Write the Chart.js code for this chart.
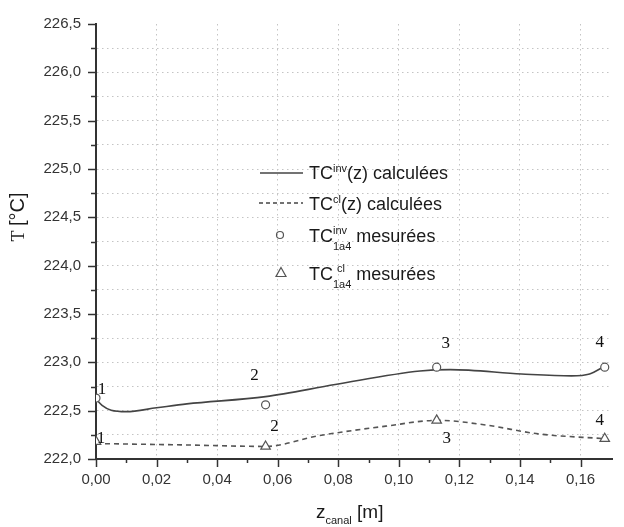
<!DOCTYPE html>
<html>
<head>
<meta charset="utf-8">
<script src="https://cdn.jsdelivr.net/npm/chart.js@4.4.0/dist/chart.umd.min.js"></script>
<style>
html, body { margin: 0; padding: 0; background: #fff; }
#wrap { width: 624px; height: 527px; }
</style>
</head>
<body>
<div id="wrap"><canvas id="chart" width="624" height="527"></canvas></div>
<script>
// Courbes calculées TC(z)
const zInvCurve = [0, 0.002, 0.005, 0.01, 0.02, 0.03, 0.056, 0.079, 0.107, 0.117, 0.1405, 0.157, 0.163, 0.168];
const tInvCurve = [222.62, 222.555, 222.505, 222.49, 222.53, 222.57, 222.645, 222.77, 222.91, 222.925, 222.88, 222.86, 222.88, 222.96];
const zClCurve = [0, 0.03, 0.056, 0.0734, 0.0957, 0.113, 0.129, 0.146, 0.168];
const tClCurve = [222.16, 222.145, 222.13, 222.24, 222.34, 222.40, 222.35, 222.26, 222.21];

// Thermocouples mesurés (1 à 4)
const zMeas = [0, 0.056, 0.1125, 0.168];
const tInvMeas = [222.63, 222.56, 222.95, 222.95];
const tClMeas = [222.18, 222.13, 222.40, 222.21];
const measLabels = ['1', '2', '3', '4'];

// Axes
const zMin = 0, zMax = 0.1704;
const tMin = 222.0, tMax = 226.5;

const SANS = '"Liberation Sans", Arial, sans-serif';
const SERIF = '"Liberation Serif", "Times New Roman", serif';

function fmt(v, d) {
    return v.toFixed(d).replace('.', ',');
}
function isMajorY(v) { return Math.abs(v * 2 - Math.round(v * 2)) < 1e-6; }
function isMajorX(v) { return Math.abs(v * 50 - Math.round(v * 50)) < 1e-6; }
function isStepX(v) { return Math.abs(v * 100 - Math.round(v * 100)) < 1e-6; }

function toPoints(xs, ys) {
    return xs.map((x, i) => ({ x: x, y: ys[i] }));
}

// texte avec exposants / indices
function drawRich(ctx, x, y, parts) {
    parts.forEach(p => {
        ctx.font = p.size + 'px ' + SANS;
        ctx.fillText(p.t, x + (p.dx || 0), y + (p.dy || 0));
        if (!p.stay) x += ctx.measureText(p.t).width + (p.dx || 0);
    });
    return x;
}

const annotPlugin = {
    id: 'annot',
    afterDraw(chart) {
        const ctx = chart.ctx;
        const xs = chart.scales.x, ys = chart.scales.y;
        const area = chart.chartArea;
        ctx.save();

        // graduations
        ctx.strokeStyle = '#333';
        ctx.lineWidth = 1.5;
        ys.ticks.forEach(t => {
            const y = Math.round(ys.getPixelForValue(t.value)) + 0.5;
            const len = isMajorY(t.value) ? 8 : 5;
            ctx.beginPath(); ctx.moveTo(area.left - len, y); ctx.lineTo(area.left, y); ctx.stroke();
        });
        xs.ticks.forEach(t => {
            if (!isStepX(t.value)) return;
            const x = Math.round(xs.getPixelForValue(t.value)) + 0.5;
            const len = isMajorX(t.value) ? 8 : 4;
            ctx.beginPath(); ctx.moveTo(x, area.bottom); ctx.lineTo(x, area.bottom + len); ctx.stroke();
        });

        // numéros des thermocouples
        const offInv = [[6, -9], [-11, -29], [9, -24], [-5, -25]];
        const offCl = [[5, -3], [9, -20], [10, 18], [-5, -18]];
        ctx.fillStyle = '#111';
        ctx.font = '17px ' + SERIF;
        ctx.textAlign = 'center';
        ctx.textBaseline = 'middle';
        zMeas.forEach((z, i) => {
            const px = xs.getPixelForValue(z);
            ctx.fillText(measLabels[i], px + offInv[i][0], ys.getPixelForValue(tInvMeas[i]) + offInv[i][1]);
            ctx.fillText(measLabels[i], px + offCl[i][0], ys.getPixelForValue(tClMeas[i]) + offCl[i][1]);
        });

        // légende
        ctx.textAlign = 'left';
        ctx.textBaseline = 'alphabetic';
        ctx.fillStyle = '#1a1a1a';
        ctx.strokeStyle = '#444';
        ctx.lineWidth = 1.5;
        ctx.beginPath(); ctx.moveTo(260, 173); ctx.lineTo(303, 173); ctx.stroke();
        ctx.setLineDash([4, 3]);
        ctx.beginPath(); ctx.moveTo(259, 203); ctx.lineTo(303, 203); ctx.stroke();
        ctx.setLineDash([]);
        ctx.lineWidth = 1.2;
        ctx.strokeStyle = '#555';
        ctx.beginPath(); ctx.arc(280, 235, 3.5, 0, Math.PI * 2); ctx.stroke();
        ctx.beginPath(); ctx.moveTo(281, 267.5); ctx.lineTo(286, 276.5); ctx.lineTo(276, 276.5); ctx.closePath(); ctx.stroke();

        drawRich(ctx, 309, 179, [{ t: 'TC', size: 18 }, { t: 'inv', size: 11, dy: -7 }, { t: '(z) calculées', size: 18 }]);
        drawRich(ctx, 309, 210, [{ t: 'TC', size: 18 }, { t: 'cl', size: 11, dy: -7 }, { t: '(z) calculées', size: 18 }]);
        drawRich(ctx, 309, 242, [{ t: 'TC', size: 18 }, { t: 'inv', size: 11, dy: -8, stay: true }, { t: '1a4', size: 11, dy: 8 }, { t: ' mesurées', size: 18 }]);
        drawRich(ctx, 309, 280, [{ t: 'TC', size: 18 }, { t: 'cl', size: 11, dx: 4, dy: -8, stay: true }, { t: '1a4', size: 11, dy: 8 }, { t: ' mesurées', size: 18 }]);

        // titre axe x
        ctx.fillStyle = '#1a1a1a';
        drawRich(ctx, 316, 518, [{ t: 'z', size: 19 }, { t: 'canal', size: 11, dy: 6 }, { t: ' [m]', size: 19 }]);

        // titre axe y
        ctx.save();
        ctx.translate(24, 217);
        ctx.rotate(-Math.PI / 2);
        ctx.font = '18px ' + SERIF;
        const w1 = ctx.measureText('T ').width;
        ctx.font = '20px ' + SANS;
        const w2 = ctx.measureText('[°C]').width;
        let x0 = -(w1 + w2) / 2;
        ctx.font = '18px ' + SERIF;
        ctx.fillText('T ', x0, 0);
        ctx.font = '20px ' + SANS;
        ctx.fillText('[°C]', x0 + w1, 0);
        ctx.restore();

        ctx.restore();
    }
};

const ctx = document.getElementById('chart').getContext('2d');
new Chart(ctx, {
    type: 'line',
    data: {
        datasets: [
            {
                data: toPoints(zMeas, tInvMeas),
                showLine: false,
                pointStyle: 'circle',
                pointRadius: 4,
                pointBorderWidth: 1.2,
                pointBorderColor: '#555',
                pointBackgroundColor: '#fff',
                clip: 0,
                order: 0
            },
            {
                data: toPoints(zMeas, tClMeas),
                showLine: false,
                pointStyle: 'triangle',
                pointRadius: 5.5,
                pointBorderWidth: 1.2,
                pointBorderColor: '#555',
                pointBackgroundColor: '#fff',
                clip: 0,
                order: 0
            },
            {
                data: toPoints(zInvCurve, tInvCurve),
                borderColor: '#444',
                borderWidth: 1.6,
                pointRadius: 0,
                cubicInterpolationMode: 'monotone',
                fill: false,
                order: 1
            },
            {
                data: toPoints(zClCurve, tClCurve),
                borderColor: '#555',
                borderWidth: 1.6,
                borderDash: [5, 4],
                pointRadius: 0,
                cubicInterpolationMode: 'monotone',
                fill: false,
                order: 1
            }
        ]
    },
    options: {
        responsive: false,
        animation: false,
        layout: { padding: { left: 0, top: 21, right: 0, bottom: 0 } },
        plugins: { legend: { display: false }, tooltip: { enabled: false } },
        scales: {
            x: {
                type: 'linear',
                min: zMin,
                max: zMax,
                afterFit: s => { s.height = 68; },
                ticks: {
                    stepSize: 0.01,
                    autoSkip: false,
                    maxRotation: 0,
                    padding: 12,
                    color: '#333',
                    font: { family: SANS, size: 15 },
                    callback: v => isMajorX(v) ? fmt(v, 2) : ''
                },
                grid: {
                    drawTicks: false,
                    lineWidth: 1,
                    color: c => (c.tick && isMajorX(c.tick.value) && c.tick.value > 0.001) ? '#c4c4c4' : 'rgba(0,0,0,0)'
                },
                border: { display: true, color: '#333', width: 2, dash: [1.5, 3.5] }
            },
            y: {
                type: 'linear',
                min: tMin,
                max: tMax,
                afterFit: s => { s.width = 96; },
                ticks: {
                    stepSize: 0.25,
                    autoSkip: false,
                    padding: 15,
                    color: '#333',
                    font: { family: SANS, size: 15 },
                    callback: v => isMajorY(v) ? fmt(v, 1) : ''
                },
                grid: {
                    drawTicks: false,
                    lineWidth: 1,
                    color: c => (c.tick && c.tick.value > tMin + 0.01 && c.tick.value < tMax - 0.01) ? '#c4c4c4' : 'rgba(0,0,0,0)'
                },
                border: { display: true, color: '#333', width: 2, dash: [1.5, 3.5] }
            }
        }
    },
    plugins: [annotPlugin]
});
</script>
</body>
</html>
